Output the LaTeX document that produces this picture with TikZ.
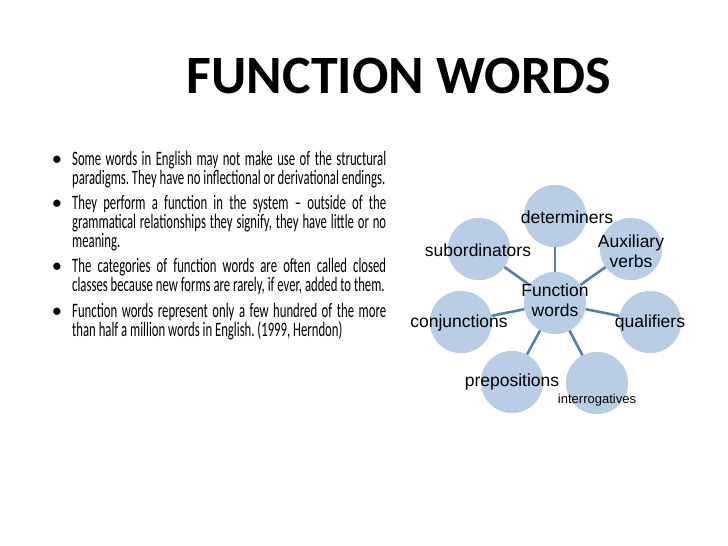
\documentclass[tikz,border=0pt]{standalone}
\usepackage{fontspec}
\setmainfont{Carlito}
\newfontfamily\narrowf[FakeStretch=0.62]{Carlito}
\setsansfont{Liberation Sans}
\usepackage{enumitem}
\begin{document}
\begin{tikzpicture}[x=1pt,y=-1pt,
  bub/.style={circle,minimum size=62pt,inner sep=0pt,fill=blubg},
  lab/.style={font=\sffamily\fontsize{17.5}{20}\selectfont,align=center},
  spoke/.style={draw=spk,line width=2.6pt}]
\definecolor{blubg}{RGB}{185,205,229}
\definecolor{spk}{RGB}{84,126,181}
\useasboundingbox (0,0) rectangle (728,546);
\node[font=\bfseries\fontsize{54}{58}\selectfont] (title) at (399,76) {FUNCTION WORDS};
\node[anchor=north west,inner sep=0pt] (txt) at (50,151) {\begin{minipage}{336pt}\narrowf\fontsize{20.5}{16}\selectfont\frenchspacing\hyphenpenalty=10000\exhyphenpenalty=10000
\begin{itemize}[leftmargin=22pt,labelsep=10pt,itemsep=7pt,topsep=0pt,parsep=0pt]
\item Some words in English may not make use of the structural paradigms. They have no inflectional or derivational endings.
\item They perform a function in the system – outside of the grammatical relationships they signify, they have little or no meaning.
\item The categories of function words are often called closed classes because new forms are rarely, if ever, added to them.
\item Function words represent only a few hundred of the more than half a million words in English. (1999, Herndon)
\end{itemize}\end{minipage}};
\node[bub] (c) at (555,303) {};
\node[bub] (det) at (555,216) {};
\node[bub] (aux) at (631,249) {};
\node[bub] (qua) at (650,322) {};
\node[bub] (int) at (597,383) {};
\node[bub] (pre) at (512,382) {};
\node[bub] (con) at (461,322) {};
\node[bub] (sub) at (479,249) {};
\foreach \n in {det,aux,qua,int,pre,con,sub} \draw[spoke] (c) -- (\n);
\node[bub] at (c) {};
\foreach \n in {det,aux,qua,int,pre,con,sub} \node[bub] at (\n) {};
\node[lab] (lc) at (555,300) {Function\\words};
\node[lab] (ldet) at (567,217) {determiners};
\node[lab] (laux) at (631,251) {Auxiliary\\verbs};
\node[lab] (lqua) at (650,323) {qualifiers};
\node[lab,font=\sffamily\fontsize{13}{15}\selectfont] (lint) at (597,400) {interrogatives};
\node[lab] (lpre) at (512,382) {prepositions};
\node[lab] (lcon) at (459,323) {conjunctions};
\node[lab] (lsub) at (478,250) {subordinators};
\end{tikzpicture}
\end{document}
